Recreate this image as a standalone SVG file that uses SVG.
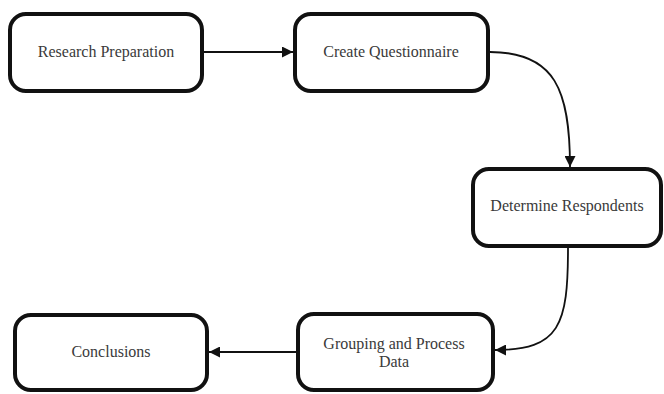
<svg xmlns="http://www.w3.org/2000/svg" width="664" height="394" viewBox="0 0 664 394">
<defs>
<style>
.node rect{fill:#fff;stroke:#111;stroke-width:4}
.node text{font-family:'Liberation Serif','Times New Roman',serif;font-size:16px;fill:#3a3a3a;text-anchor:middle}
.conn path{fill:none;stroke:#111;stroke-width:1.8}
</style>
<marker id="ah" viewBox="0 0 10 10" refX="10" refY="5" markerWidth="12" markerHeight="11" markerUnits="userSpaceOnUse" orient="auto">
<path d="M0,0 L10,5 L0,10 z" fill="#111"/>
</marker>
</defs>
<rect width="664" height="394" fill="#fff"/>
<g id="n1" class="node"><rect x="10" y="14" width="192" height="77" rx="16"/><text x="106" y="57">Research Preparation</text></g>
<g id="n2" class="node"><rect x="295" y="14" width="193" height="77" rx="16"/><text x="391" y="57">Create Questionnaire</text></g>
<g id="n3" class="node"><rect x="473" y="169" width="188" height="77" rx="16"/><text x="567" y="211">Determine Respondents</text></g>
<g id="n4" class="node"><rect x="298" y="314" width="195" height="76" rx="16"/><text x="394" y="349">Grouping and Process</text><text x="394" y="367">Data</text></g>
<g id="n5" class="node"><rect x="15" y="315" width="192" height="75" rx="16"/><text x="111" y="357">Conclusions</text></g>
<g id="connectors" class="conn">
<path d="M204,52 L293,52" marker-end="url(#ah)"/>
<path d="M490,52 C555,52 570,90 570,167" marker-end="url(#ah)"/>
<path d="M568,248 C568,325 560,350 495,350" marker-end="url(#ah)"/>
<path d="M296,352 L209,352" marker-end="url(#ah)"/>
</g>
</svg>
